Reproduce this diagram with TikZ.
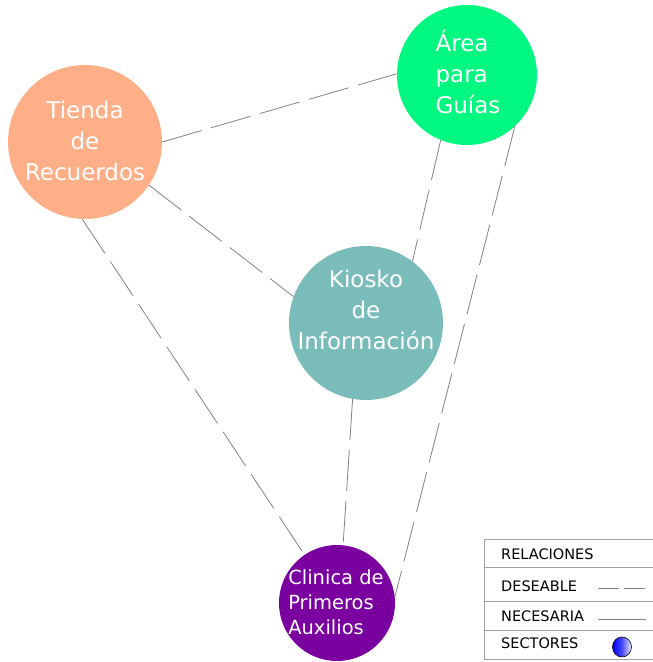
\documentclass[tikz,border=0pt]{standalone}
\usepackage{fontspec}
\setmainfont{DejaVu Sans}
\definecolor{tiendafill}{HTML}{FFAF87}
\definecolor{areafill}{HTML}{00F880}
\definecolor{kioskofill}{HTML}{79BCBA}
\definecolor{clinicafill}{HTML}{7A00A0}
\definecolor{linkgray}{HTML}{808080}
\definecolor{tablegray}{HTML}{A0A0A0}

\begin{document}
\begin{tikzpicture}[
  x=1pt,
  y=1pt,
  sector/.style={circle, draw=none, inner sep=0pt},
  sectortext/.style={text=white, inner sep=0pt, font=\fontsize{23}{31}\selectfont},
  deseable/.style={linkgray, line width=0.8pt, dash pattern=on 41pt off 10pt},
  necesaria/.style={linkgray, line width=0.8pt},
  legendtext/.style={anchor=base west, inner sep=0pt, font=\fontsize{14.5}{16}\selectfont}
]
  \useasboundingbox (0,0) rectangle (653,662);

  % Sectors
  \node[sector, fill=tiendafill, minimum size=154pt] (tienda) at (85,520) {};
  \node[sector, fill=areafill, minimum size=140pt] (area) at (467,587) {};
  \node[sector, fill=kioskofill, minimum size=154pt] (kiosko) at (366,339) {};
  \node[sector, fill=clinicafill, minimum size=116pt] (clinica) at (337,59) {};

  \node[sectortext, align=center] (tiendaTxt) at (85,521) {Tienda\\de\\Recuerdos};
  \node[sectortext, align=left] (areaTxt) at (468,590) {Área\\para\\Guías};
  \node[sectortext, align=center] (kioskoTxt) at (366,352) {Kiosko\\de\\Información};
  \node[sectortext, align=left, font=\fontsize{19.5}{25}\selectfont] (clinicaTxt) at (336,60)
    {Clinica de\\Primeros\\Auxilios};

  % Relations between sectors
  \draw[deseable] (tienda.0) -- (area.179);
  \draw[deseable] (tienda.-34) -- (kiosko.160);
  \draw[deseable] (tienda.-92) -- (clinica.124);
  \draw[deseable] (area.-112) -- (kiosko.53);
  \draw[deseable] (area.-47) -- (clinica.6);
  \draw[deseable] (kiosko.-100) -- (clinica.84);

  % Legend table
  \draw[tablegray, line width=0.8pt] (484,3) -- (484,123);
  \foreach \rowy in {123,95,61,32,3}
    \draw[tablegray, line width=0.8pt] (484,\rowy) -- (653,\rowy);

  \node[legendtext] (relaciones) at (501,102) {RELACIONES};
  \node[legendtext] (deseable) at (501,70) {DESEABLE};
  \node[legendtext] (necesaria) at (501,40) {NECESARIA};
  \node[legendtext] (sectores) at (501,13) {SECTORES};

  \coordinate (deseableA) at (598,74);
  \coordinate (deseableB) at (646,74);
  \draw[linkgray, line width=0.8pt, dash pattern=on 21pt off 5pt] (deseableA) -- (deseableB);
  \coordinate (necesariaA) at (598,43);
  \coordinate (necesariaB) at (646,43);
  \draw[necesaria] (necesariaA) -- (necesariaB);
  \shade[left color=blue, right color=blue!8, middle color=blue!70, draw=black, line width=0.6pt]
    (622,15) ellipse (9.5 and 10);
\end{tikzpicture}
\end{document}
